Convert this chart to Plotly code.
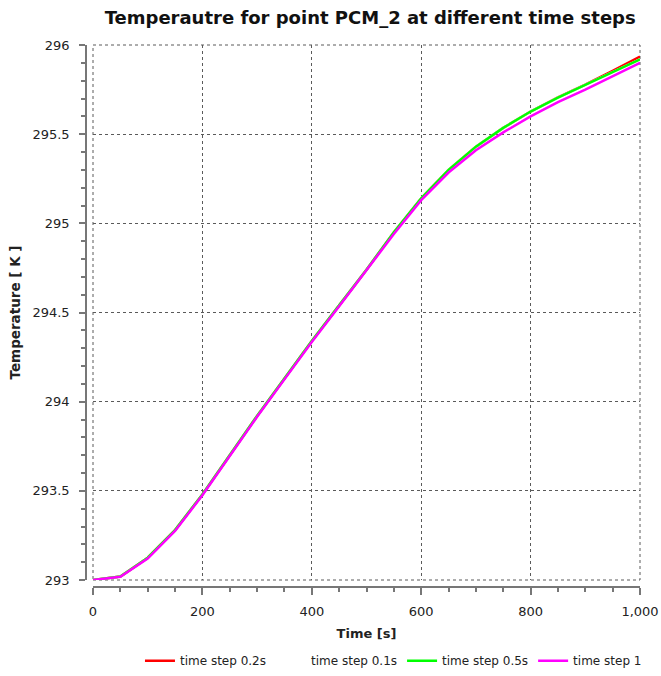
import plotly.graph_objects as go

# Simulation time (s)
time_s = [0, 50, 100, 150, 200, 250, 300, 350, 400, 450, 500,
          550, 600, 650, 700, 750, 800, 850, 900, 950, 1000]

# Temperature at point PCM_2 (K) for each time step size
temp_dt02 = [293.0, 293.02, 293.125, 293.28, 293.48, 293.70, 293.92, 294.13, 294.34, 294.54, 294.74,
             294.95, 295.14, 295.30, 295.43, 295.535, 295.627, 295.707, 295.778, 295.855, 295.935]
temp_dt01 = [293.0, 293.02, 293.125, 293.28, 293.48, 293.70, 293.92, 294.13, 294.34, 294.54, 294.74,
             294.95, 295.14, 295.30, 295.43, 295.535, 295.627, 295.705, 295.776, 295.85, 295.92]
temp_dt05 = [293.0, 293.02, 293.125, 293.28, 293.48, 293.70, 293.92, 294.13, 294.34, 294.54, 294.74,
             294.95, 295.14, 295.30, 295.43, 295.535, 295.627, 295.705, 295.776, 295.85, 295.92]
temp_dt1 = [293.0, 293.018, 293.12, 293.275, 293.475, 293.695, 293.915, 294.125, 294.335, 294.535, 294.735,
            294.94, 295.13, 295.285, 295.41, 295.51, 295.60, 295.68, 295.75, 295.825, 295.90]

series = [
    ("time step 0.2s", temp_dt02, "#ff0000"),
    ("time step 0.1s", temp_dt01, "#ffffff"),
    ("time step 0.5s", temp_dt05, "#00ff00"),
    ("time step 1", temp_dt1, "#ff00ff"),
]

FONT = "DejaVu Sans"
GRID = "#5a5a5a"
AXIS = "#777777"

fig = go.Figure()
for name, temps, color in series:
    fig.add_trace(go.Scatter(x=time_s, y=temps, mode="lines", name=name,
                             line=dict(color=color, width=2.5)))

# empty trace so the offset axis pair gets drawn
fig.add_trace(go.Scatter(x=[], y=[], xaxis="x2", yaxis="y2", mode="lines",
                         showlegend=False, hoverinfo="skip"))

x_dom = [7 / 554, 1]
y_dom = [7 / 542, 1]

fig.update_layout(
    width=661, height=676,
    paper_bgcolor="white", plot_bgcolor="white",
    margin=dict(l=86, r=21, t=45, b=89, autoexpand=False),
    font=dict(family=FONT, size=13, color="#222222"),
    title=dict(text="<b>Temperautre for point PCM_2 at different time steps</b>",
               xref="paper", x=0.513, xanchor="center", y=0.974, yanchor="middle",
               font=dict(family=FONT, size=18, color="#111111")),
    showlegend=True,
    legend=dict(orientation="h", x=0.555, xanchor="center", y=-0.136, yanchor="middle",
                font=dict(family=FONT, size=12, color="#222222"),
                itemwidth=30, traceorder="normal"),
    # main axes: dotted grid only
    xaxis=dict(domain=x_dom, range=[0, 1000], dtick=200, showgrid=True,
               gridcolor=GRID, griddash="dot", gridwidth=1, zeroline=False,
               showticklabels=False, ticks="", showline=False),
    yaxis=dict(domain=y_dom, range=[293, 296], dtick=0.5, showgrid=True,
               gridcolor=GRID, griddash="dot", gridwidth=1, zeroline=False,
               showticklabels=False, ticks="", showline=False),
    # offset axes carrying the line, ticks and labels
    xaxis2=dict(overlaying="x", anchor="free", position=0,
                range=[0, 1000], dtick=200, tickformat=",", showgrid=False, zeroline=False,
                showline=True, linecolor=AXIS, linewidth=1.5,
                ticks="outside", ticklen=7, tickcolor=AXIS, tickwidth=1.5,
                ticklabelstandoff=6,
                minor=dict(dtick=50, ticks="outside", ticklen=4, tickcolor=AXIS, showgrid=False),
                title=dict(text="<b>Time [s]</b>", font=dict(family=FONT, size=13), standoff=10)),
    yaxis2=dict(overlaying="y", anchor="free", position=0,
                range=[293, 296], dtick=0.5, showgrid=False, zeroline=False,
                showline=True, linecolor=AXIS, linewidth=1.5,
                ticks="outside", ticklen=6, tickcolor=AXIS, tickwidth=1.5,
                ticklabelstandoff=7,
                minor=dict(dtick=0.1, ticks="outside", ticklen=4, tickcolor=AXIS, showgrid=False),
                title=dict(text="<b>Temperature [ K ]</b>", font=dict(family=FONT, size=13.5), standoff=8)),
    # dotted frame around the plotting area
    shapes=[dict(type="rect", xref="x domain", yref="y domain", x0=0, x1=1, y0=0, y1=1,
                 line=dict(color=GRID, width=1, dash="dot"), layer="below")],
)

fig.write_html("out.html")
